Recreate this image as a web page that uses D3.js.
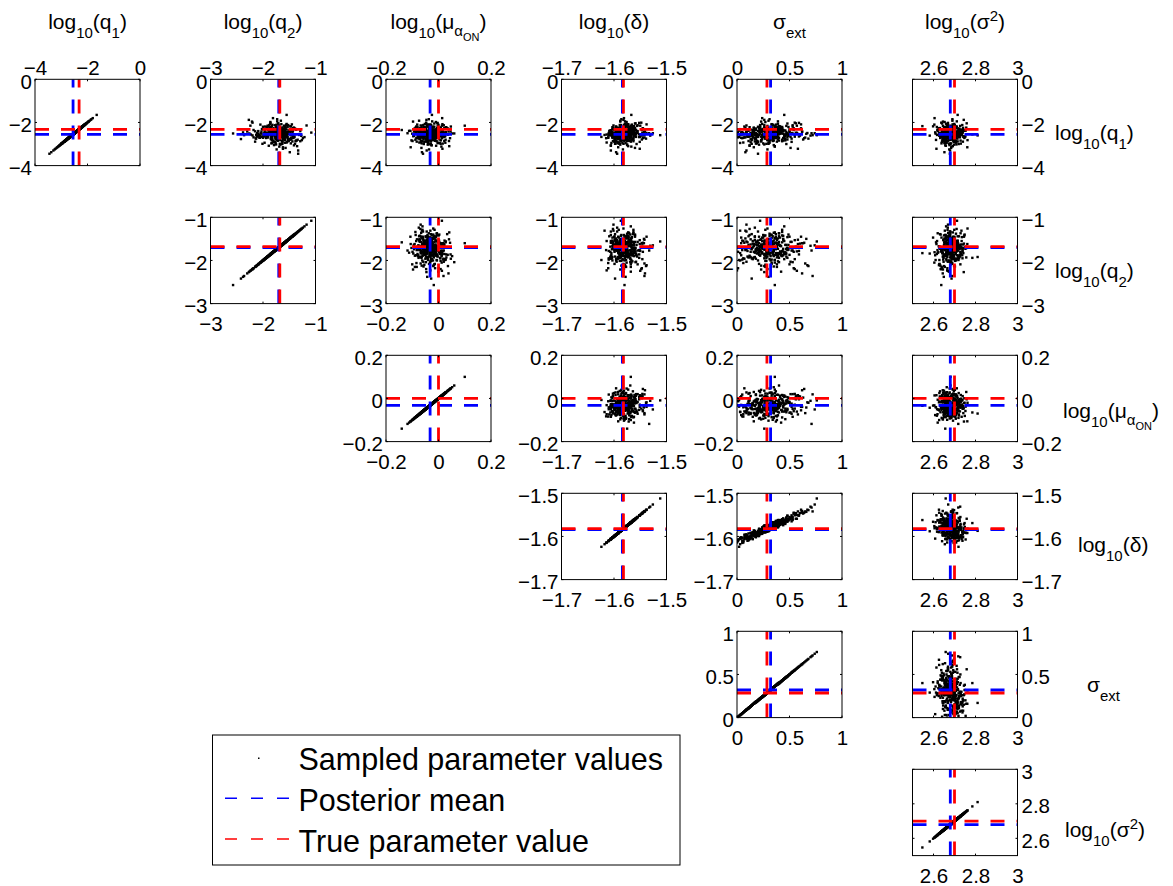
<!DOCTYPE html>
<html><head><meta charset="utf-8">
<script src="https://cdn.jsdelivr.net/npm/d3@7"></script>
<style>body{margin:0;background:#fff;}</style>
</head><body>
<svg id="chart" width="1173" height="886" style="background:#fff"></svg>
<script>
// ---------- data ----------
const domains = [[-4,0],[-3,-1],[-0.2,0.2],[-1.7,-1.5],[0,1],[2.5,3]];
const tickValues = [[-4,-2,0],[-3,-2,-1],[-0.2,0,0.2],[-1.7,-1.6,-1.5],[0,0.5,1],[2.6,2.8,3]];
const tickLabels = [["−4","−2","0"],["−3","−2","−1"],["−0.2","0","0.2"],["−1.7","−1.6","−1.5"],["0","0.5","1"],["2.6","2.8","3"]];
const posteriorMean = [-2.55,-1.70,-0.032,-1.584,0.32,2.68];
const trueValue = [-2.32,-1.68,0.0,-1.582,0.285,2.70];
const legendLabels = ["Sampled parameter values","Posterior mean","True parameter value"];

const sampQ1 = [
-2.41,-2.73,-2.55,-2.18,-2.62,-2.47,-2.90,-2.33,-2.51,-2.69,-2.24,-2.58,-2.44,-2.81,-2.36,-2.60,-2.12,-2.53,-2.75,-2.49,
-2.30,-2.66,-2.57,-2.95,-2.39,-2.21,-2.63,-2.48,-2.84,-2.52,-2.27,-2.71,-2.45,-2.06,-2.59,-2.38,-2.78,-2.54,-2.35,-2.65,
-2.50,-3.08,-2.43,-2.26,-2.68,-2.56,-2.15,-2.61,-2.42,-2.87,-2.34,-2.53,-2.70,-2.46,-1.95,-2.64,-2.29,-2.58,-2.77,-2.40,
-2.55,-2.20,-2.72,-2.48,-2.99,-2.37,-2.62,-2.51,-2.25,-2.80,-2.44,-2.57,-2.10,-2.67,-2.32,-2.52,-2.86,-2.45,-2.60,-2.23,
-2.74,-2.39,-2.54,-3.45,-2.47,-2.66,-2.31,-2.58,-2.13,-2.69,-2.49,-2.36,-2.83,-2.56,-2.28,-2.63,-2.42,-2.92,-2.50,-2.19,
-2.61,-2.44,-2.76,-2.35,-2.53,-2.02,-2.68,-2.47,-2.89,-2.40,-2.57,-2.26,-2.71,-2.51,-2.33,-3.18,-2.46,-2.64,-2.17,-2.55,
-2.38,-2.79,-2.50,-2.22,-2.65,-2.43,-2.59,-1.85,-2.73,-2.48,-2.30,-2.62,-2.54,-2.96,-2.41,-2.67,-2.14,-2.57,-2.45,-2.82,
-2.52,-2.29,-2.70,-2.46,-2.60,-2.37,-3.02,-2.55,-2.24,-2.64,-2.49,-2.77,-2.34,-2.58,-2.08,-2.66,-2.43,-2.85,-2.53,-2.39,
-2.63,-2.21,-2.56,-2.74,-2.47,-2.32,-2.69,-2.51,-2.88,-2.42,-1.65,-2.59,-2.36,-2.72,-2.48,-2.27,-2.61,-2.54,-3.25,-2.45,
-2.57,-2.40,-2.81,-2.16,-2.65,-2.50,-2.35,-2.75,-2.44,-2.58,-2.23,-2.68,-2.52,-2.93,-2.31,-2.62,-2.47,-2.11,-2.70,-2.55,
-2.46,-2.84,-2.28,-2.60,-2.42,-2.73,-2.53,-2.19,-2.67,-2.49,-2.98,-2.37,-2.56,-2.25,-2.64,-2.44,-2.79,-2.51,-2.33,-2.61,
-2.48,-2.26,-2.71,-2.55,-2.05,-2.63,-2.41,-2.86,-2.52,-2.34,-2.66,-2.45,-3.12,-2.58,-2.30,-2.76,-2.50,-2.20,-2.60,-2.43,
-2.12,-2.88,-2.35,-2.67,-1.92,-2.54,-3.05,-2.41,-2.79,-2.20,-2.61,-2.97,-2.28,-2.50,-1.88,-2.73,-2.45,-3.22,-2.58,-2.16,
-2.83,-2.32,-2.62,-2.07,-2.49,-2.94,-2.38,-2.70,-2.26,-3.10,-2.55,-2.01,-2.66,-2.43,-2.86,-2.18,-2.59,-2.37,-2.78,-2.47,
-2.29,-2.71,-1.98,-2.56,-2.90,-2.44,-2.15,-2.64,-3.30,-2.39,-2.52,-2.81,-2.09,-2.68,-2.34,-2.99,-2.46,-2.23,-2.75,-2.57,
-2.60,-2.11,-2.84,-2.42,-2.69,-2.25,-3.00,-2.53,-1.80,-2.77,-2.36,-2.63,-2.94,-2.19,-2.51,-2.72,-2.40,-3.15,-2.27,-2.65,
-2.44,-2.97,-2.31,-2.58,-2.04,-2.80,-2.48,-2.22,-2.74,-2.61,-3.06,-2.35,-2.55,-2.89,-2.14,-2.67,-2.42,-2.99,-2.53,-2.30,
-2.76,-2.40,-2.66,-3.38,-2.21,-2.59,-2.87,-2.33,-2.50,-1.96,-2.70,-2.45,-2.82,-2.27,-2.62,-3.03,-2.39,-2.56,-2.10,-2.73];

const sampQ2 = [
-1.62,-1.85,-1.71,-1.48,-1.93,-1.66,-1.77,-1.55,-2.04,-1.69,-1.41,-1.81,-1.74,-1.58,-1.96,-1.64,-1.88,-1.52,-1.72,-1.79,
-1.67,-2.12,-1.59,-1.83,-1.45,-1.75,-1.90,-1.63,-1.36,-1.78,-1.70,-2.00,-1.56,-1.86,-1.68,-1.50,-1.82,-1.61,-2.18,-1.73,
-1.57,-1.89,-1.65,-1.43,-1.76,-1.98,-1.60,-1.84,-1.70,-1.29,-1.80,-1.66,-2.07,-1.54,-1.73,-1.91,-1.62,-1.47,-1.85,-1.69,
-1.76,-1.53,-1.94,-1.68,-1.39,-1.81,-1.64,-2.26,-1.72,-1.58,-1.87,-1.45,-1.74,-1.99,-1.61,-1.79,-1.51,-1.70,-1.92,-1.63,
-1.84,-1.60,-1.73,-1.33,-1.88,-1.67,-2.02,-1.55,-1.77,-1.64,-1.95,-1.49,-1.71,-1.82,-1.58,-2.10,-1.66,-1.80,-1.44,-1.75,
-1.69,-1.97,-1.52,-1.78,-1.63,-1.86,-1.40,-1.74,-2.15,-1.60,-1.81,-1.68,-1.47,-1.90,-1.72,-1.57,-2.38,-1.65,-1.83,-1.54,
-1.79,-1.46,-1.70,-1.92,-1.61,-1.85,-1.56,-1.73,-1.24,-1.88,-1.67,-2.05,-1.59,-1.76,-1.43,-1.83,-1.69,-1.97,-1.62,-1.74,
-1.66,-1.89,-1.54,-1.80,-2.20,-1.64,-1.75,-1.48,-1.93,-1.70,-1.57,-1.84,-1.37,-1.78,-1.65,-2.01,-1.60,-1.72,-1.87,-1.51,
-1.73,-1.58,-1.96,-1.68,-1.81,-1.45,-1.76,-2.57,-1.63,-1.86,-1.55,-1.71,-1.90,-1.42,-1.79,-1.67,-2.08,-1.60,-1.74,-1.84,
-1.61,-1.77,-1.50,-1.91,-1.69,-1.83,-1.58,-2.13,-1.72,-1.46,-1.85,-1.66,-1.99,-1.55,-1.78,-1.64,-1.08,-1.82,-1.70,-1.94,
-1.75,-1.52,-1.87,-1.65,-2.03,-1.59,-1.80,-1.70,-1.41,-1.88,-1.63,-1.76,-2.23,-1.57,-1.84,-1.68,-1.49,-1.92,-1.73,-1.61,
-1.82,-1.67,-1.44,-1.95,-1.71,-1.56,-1.86,-1.64,-2.09,-1.74,-1.53,-1.79,-1.69,-1.31,-1.90,-1.62,-1.77,-2.00,-1.58,-1.72,
-1.52,-1.44,-1.88,-2.03,-1.66,-1.31,-1.79,-2.15,-1.60,-1.57,-1.95,-1.84,-1.39,-1.71,-2.27,-1.76,-1.48,-1.62,-2.08,-1.91,
-1.83,-1.63,-1.27,-1.55,-2.11,-1.97,-1.68,-1.74,-1.42,-1.35,-1.89,-2.20,-1.58,-1.65,-1.80,-1.47,-2.36,-1.72,-1.51,-1.93,
-1.69,-2.06,-1.86,-1.40,-1.54,-1.77,-2.24,-1.61,-1.33,-1.82,-1.98,-1.67,-1.45,-1.21,-1.75,-2.01,-1.88,-1.59,-1.70,-2.13,
-1.92,-1.56,-1.37,-1.74,-2.18,-1.85,-1.64,-1.50,-1.81,-2.42,-1.69,-1.43,-1.58,-1.96,-2.04,-1.73,-1.29,-1.62,-1.87,-1.78,
-1.60,-1.47,-2.00,-1.90,-1.71,-1.34,-1.53,-1.86,-2.14,-1.66,-1.41,-1.76,-1.94,-1.63,-1.17,-1.83,-2.30,-1.68,-1.55,-1.79,
-1.76,-2.09,-1.62,-1.49,-1.85,-1.97,-1.38,-1.72,-1.65,-2.21,-1.91,-1.54,-1.26,-1.80,-1.99,-1.67,-1.44,-1.84,-2.05,-1.59];

const sampMu = [
-0.046,0.014,-0.070,-0.031,-0.018,-0.054,-0.039,-0.002,0.060,-0.060,-0.087,-0.025,-0.010,-0.041,-0.050,0.017,-0.028,-0.074,-0.037,-0.015,
-0.023,-0.064,-0.049,0.005,-0.107,-0.020,0.012,-0.044,-0.066,-0.030,-0.055,-0.006,0.028,-0.047,-0.079,-0.022,-0.012,-0.034,0.001,-0.058,
-0.039,-0.009,-0.027,-0.072,-0.053,0.018,0.100,-0.043,-0.019,-0.061,-0.032,-0.003,-0.068,0.023,-0.024,-0.048,-0.091,-0.014,-0.057,-0.040,
-0.017,-0.045,-0.076,0.010,-0.029,-0.052,-0.094,-0.001,-0.036,0.027,-0.021,-0.060,-0.081,-0.007,-0.026,-0.042,0.040,-0.055,-0.070,-0.033,
-0.044,0.003,-0.023,-0.059,-0.086,-0.011,-0.031,-0.050,0.020,-0.063,-0.041,-0.018,-0.103,0.007,-0.028,-0.054,0.013,-0.067,-0.014,-0.038,
-0.051,-0.025,-0.071,0.016,-0.035,-0.004,-0.020,-0.058,-0.083,-0.040,-0.047,0.009,-0.030,0.052,-0.016,-0.065,-0.043,-0.077,-0.034,-0.008,
-0.021,-0.048,0.004,-0.030,-0.062,-0.015,-0.009,-0.037,-0.075,-0.026,-0.052,0.012,-0.033,-0.003,-0.019,-0.068,-0.044,0.021,-0.056,-0.028,
-0.035,-0.090,-0.041,-0.011,0.008,-0.024,-0.031,-0.059,0.030,-0.046,-0.071,-0.017,-0.006,-0.050,0.015,-0.027,-0.039,-0.013,-0.034,-0.082,
-0.007,-0.055,0.019,-0.023,-0.043,-0.066,-0.038,-0.018,-0.029,0.046,-0.025,-0.049,-0.078,0.001,-0.061,-0.032,-0.014,0.010,-0.036,-0.053,
-0.045,-0.004,-0.028,-0.064,0.025,-0.051,-0.140,-0.020,-0.034,-0.010,0.006,-0.057,-0.040,-0.073,-0.047,-0.016,0.013,-0.030,-0.022,-0.065,
-0.054,-0.012,0.035,-0.038,-0.058,-0.026,0.002,-0.085,-0.042,-0.019,0.016,-0.069,-0.031,-0.050,-0.096,-0.008,-0.027,-0.045,-0.036,0.009,
-0.024,-0.067,-0.043,0.007,-0.016,-0.056,-0.033,0.022,-0.100,-0.013,-0.029,-0.048,0.011,-0.063,-0.005,-0.035,-0.118,-0.021,0.003,-0.052,
-0.058,-0.049,0.012,0.020,-0.074,-0.031,-0.027,-0.090,0.004,-0.016,-0.041,-0.064,0.033,-0.008,-0.046,-0.083,-0.022,0.015,-0.036,-0.003,
0.009,-0.011,-0.069,-0.052,-0.018,0.026,-0.038,-0.079,-0.005,0.041,-0.060,-0.047,-0.025,-0.014,-0.099,-0.033,0.019,-0.001,-0.072,-0.043,
-0.030,-0.084,-0.010,0.003,-0.054,-0.066,0.013,-0.021,-0.045,-0.112,0.027,-0.017,-0.039,-0.061,-0.006,0.008,-0.077,-0.050,-0.024,0.036,
-0.065,0.000,-0.037,-0.093,-0.013,0.022,-0.056,-0.042,0.014,-0.028,-0.081,-0.070,-0.002,0.047,-0.048,-0.035,-0.015,-0.106,-0.053,0.010,
0.017,-0.040,-0.062,-0.019,-0.004,-0.088,-0.034,0.029,-0.057,-0.011,-0.026,-0.073,0.006,-0.045,-0.068,-0.009,0.038,-0.031,-0.085,-0.023,
-0.047,-0.016,0.021,-0.063,-0.080,-0.029,-0.007,0.011,-0.051,-0.097,-0.036,0.002,-0.020,-0.059,0.025,-0.041,-0.074,-0.012,-0.032,0.044];

const sampDelta = [
-1.578,-1.570,-1.591,-1.576,-1.593,-1.581,-1.551,-1.594,-1.569,-1.602,-1.581,-1.584,-1.562,-1.579,-1.606,-1.567,-1.589,-1.542,-1.578,-1.592,
-1.570,-1.586,-1.587,-1.605,-1.572,-1.563,-1.574,-1.600,-1.572,-1.595,-1.545,-1.580,-1.597,-1.578,-1.582,-1.568,-1.592,-1.585,-1.547,-1.591,
-1.573,-1.606,-1.567,-1.587,-1.552,-1.610,-1.568,-1.588,-1.589,-1.563,-1.599,-1.573,-1.542,-1.581,-1.579,-1.598,-1.580,-1.580,-1.564,-1.579,
-1.595,-1.569,-1.589,-1.546,-1.598,-1.580,-1.577,-1.568,-1.601,-1.584,-1.557,-1.592,-1.566,-1.624,-1.577,-1.568,-1.586,-1.582,-1.587,-1.569,
-1.575,-1.590,-1.560,-1.594,-1.567,-1.603,-1.565,-1.589,-1.555,-1.584,-1.610,-1.567,-1.581,-1.562,-1.602,-1.579,-1.573,-1.592,-1.578,-1.588,
-1.575,-1.595,-1.588,-1.561,-1.586,-1.552,-1.569,-1.604,-1.568,-1.596,-1.561,-1.584,-1.603,-1.583,-1.583,-1.560,-1.578,-1.597,-1.562,-1.584,
-1.584,-1.566,-1.576,-1.603,-1.562,-1.585,-1.512,-1.586,-1.594,-1.564,-1.590,-1.567,-1.606,-1.578,-1.574,-1.587,-1.581,-1.546,-1.584,-1.597,
-1.571,-1.587,-1.582,-1.607,-1.581,-1.566,-1.575,-1.573,-1.592,-1.584,-1.555,-1.589,-1.563,-1.610,-1.573,-1.586,-1.543,-1.597,-1.564,-1.580,
-1.582,-1.572,-1.592,-1.579,-1.574,-1.560,-1.599,-1.580,-1.588,-1.576,-1.567,-1.592,-1.571,-1.581,-1.559,-1.586,-1.582,-1.602,-1.583,-1.566,
-1.578,-1.589,-1.587,-1.556,-1.600,-1.575,-1.575,-1.539,-1.575,-1.600,-1.567,-1.589,-1.567,-1.614,-1.578,-1.562,-1.587,-1.581,-1.590,-1.569,
-1.579,-1.571,-1.589,-1.580,-1.595,-1.574,-1.575,-1.562,-1.586,-1.564,-1.597,-1.569,-1.614,-1.579,-1.571,-1.584,-1.575,-1.592,-1.581,-1.546,
-1.581,-1.593,-1.576,-1.579,-1.560,-1.596,-1.567,-1.602,-1.568,-1.587,-1.551,-1.591,-1.567,-1.618,-1.562,-1.586,-1.533,-1.596,-1.570,-1.587,
-1.587,-1.599,-1.558,-1.558,-1.588,-1.601,-1.575,-1.577,-1.547,-1.564,-1.604,-1.591,-1.564,-1.564,-1.582,-1.615,-1.573,-1.551,-1.599,-1.578,
-1.568,-1.567,-1.602,-1.579,-1.538,-1.584,-1.607,-1.596,-1.560,-1.573,-1.589,-1.548,-1.603,-1.586,-1.580,-1.566,-1.542,-1.583,-1.598,-1.573,
-1.578,-1.611,-1.576,-1.560,-1.599,-1.572,-1.550,-1.591,-1.606,-1.562,-1.583,-1.587,-1.538,-1.568,-1.591,-1.589,-1.605,-1.574,-1.565,-1.581,
-1.607,-1.573,-1.571,-1.582,-1.611,-1.586,-1.557,-1.543,-1.581,-1.598,-1.578,-1.574,-1.593,-1.596,-1.559,-1.563,-1.591,-1.592,-1.572,-1.550,
-1.568,-1.591,-1.603,-1.579,-1.559,-1.563,-1.594,-1.583,-1.578,-1.531,-1.606,-1.581,-1.552,-1.595,-1.601,-1.579,-1.541,-1.582,-1.606,-1.565,
-1.599,-1.555,-1.578,-1.596,-1.583,-1.569,-1.575,-1.602,-1.526,-1.588,-1.577,-1.603,-1.582,-1.545,-1.577,-1.588,-1.609,-1.558,-1.576,-1.545];

const sampSigExt = [
0.28,0.45,0.19,0.36,0.11,0.31,0.52,0.24,0.40,0.07,0.33,0.21,0.47,0.29,0.15,0.38,0.26,0.58,0.34,0.18,
0.42,0.23,0.30,0.03,0.37,0.49,0.27,0.13,0.35,0.22,0.61,0.32,0.09,0.39,0.25,0.44,0.17,0.30,0.54,0.20,
0.33,0.12,0.41,0.26,0.48,0.05,0.36,0.29,0.22,0.43,0.16,0.31,0.65,0.27,0.39,0.10,0.35,0.24,0.46,0.30,
0.19,0.38,0.28,0.56,0.14,0.34,0.25,0.42,0.08,0.32,0.50,0.21,0.37,0.02,0.29,0.44,0.23,0.33,0.17,0.40,
0.31,0.26,0.47,0.20,0.35,0.11,0.39,0.28,0.53,0.24,0.06,0.36,0.30,0.45,0.18,0.27,0.41,0.13,0.34,0.22,
0.37,0.15,0.29,0.43,0.25,0.59,0.32,0.09,0.38,0.21,0.46,0.28,0.04,0.35,0.24,0.51,0.30,0.19,0.40,0.26,
0.23,0.48,0.33,0.12,0.39,0.27,0.76,0.31,0.17,0.42,0.25,0.36,0.07,0.30,0.44,0.20,0.34,0.55,0.28,0.14,
0.41,0.22,0.35,0.01,0.29,0.46,0.26,0.37,0.16,0.32,0.52,0.24,0.40,0.10,0.33,0.27,0.62,0.19,0.38,0.30,
0.25,0.43,0.18,0.34,0.28,0.50,0.08,0.36,0.23,0.31,0.45,0.14,0.39,0.27,0.57,0.21,0.33,0.04,0.29,0.42,
0.35,0.20,0.30,0.47,0.12,0.38,0.26,0.68,0.32,0.17,0.41,0.24,0.36,0.06,0.28,0.49,0.22,0.34,0.15,0.40,
0.27,0.44,0.21,0.33,0.09,0.37,0.30,0.53,0.25,0.42,0.18,0.35,0.00,0.29,0.46,0.23,0.39,0.13,0.31,0.60,
0.32,0.16,0.40,0.26,0.48,0.19,0.34,0.11,0.38,0.29,0.55,0.22,0.36,0.03,0.43,0.27,0.71,0.20,0.33,0.24,
0.22,0.17,0.44,0.51,0.30,0.08,0.35,0.27,0.63,0.40,0.14,0.19,0.37,0.48,0.26,0.05,0.33,0.58,0.21,0.29,
0.46,0.39,0.12,0.24,0.67,0.31,0.02,0.18,0.43,0.36,0.28,0.55,0.10,0.16,0.34,0.41,0.72,0.25,0.13,0.38,
0.30,0.06,0.27,0.49,0.20,0.35,0.57,0.15,0.09,0.42,0.33,0.23,0.61,0.45,0.18,0.28,0.04,0.37,0.52,0.26,
0.11,0.34,0.40,0.21,0.01,0.29,0.47,0.66,0.24,0.14,0.38,0.31,0.19,0.07,0.53,0.44,0.27,0.16,0.36,0.59,
0.39,0.25,0.03,0.32,0.56,0.43,0.17,0.22,0.35,0.70,0.12,0.28,0.48,0.20,0.09,0.37,0.62,0.30,0.15,0.41,
0.18,0.50,0.34,0.08,0.26,0.45,0.31,0.13,0.74,0.23,0.39,0.05,0.29,0.54,0.36,0.21,0.11,0.47,0.33,0.64];

const sampSig2 = [
2.672,2.705,2.651,2.689,2.718,2.664,2.640,2.697,2.681,2.726,2.658,2.693,2.675,2.612,2.701,2.668,2.737,2.684,2.647,2.710,
2.679,2.633,2.699,2.662,2.745,2.686,2.655,2.714,2.670,2.692,2.627,2.707,2.677,2.660,2.721,2.683,2.644,2.696,2.666,2.752,
2.688,2.659,2.716,2.674,2.638,2.703,2.681,2.582,2.695,2.667,2.729,2.653,2.690,2.676,2.711,2.645,2.685,2.700,2.661,2.733,
2.669,2.694,2.648,2.712,2.680,2.623,2.706,2.673,2.741,2.656,2.687,2.699,2.664,2.719,2.677,2.636,2.702,2.683,2.810,2.652,
2.691,2.665,2.724,2.678,2.650,2.708,2.684,2.617,2.697,2.671,2.738,2.660,2.693,2.643,2.715,2.680,2.656,2.704,2.674,2.689,
2.657,2.713,2.682,2.641,2.700,2.669,2.748,2.686,2.654,2.717,2.676,2.630,2.695,2.663,2.722,2.684,2.649,2.706,2.547,2.692,
2.701,2.673,2.639,2.696,2.681,2.730,2.658,2.690,2.668,2.711,2.625,2.685,2.703,2.652,2.678,2.742,2.666,2.694,2.687,2.646,
2.676,2.719,2.663,2.698,2.634,2.688,2.709,2.671,2.756,2.655,2.692,2.680,2.620,2.714,2.667,2.702,2.683,2.643,2.725,2.674,
2.694,2.651,2.707,2.682,2.728,2.662,2.690,2.637,2.699,2.677,2.715,2.659,2.686,2.747,2.670,2.696,2.629,2.705,2.675,2.688,
2.666,2.703,2.679,2.645,2.720,2.684,2.656,2.698,2.673,2.735,2.661,2.691,2.610,2.708,2.682,2.650,2.712,2.669,2.700,2.785,
2.683,2.647,2.697,2.716,2.668,2.690,2.639,2.704,2.676,2.658,2.730,2.687,2.665,2.700,2.644,2.721,2.679,2.693,2.653,2.710,
2.672,2.706,2.660,2.689,2.641,2.713,2.681,2.695,2.627,2.702,2.669,2.739,2.685,2.654,2.697,2.675,2.718,2.662,2.692,2.678,
2.701,2.715,2.662,2.648,2.690,2.733,2.676,2.639,2.655,2.708,2.722,2.684,2.631,2.667,2.744,2.696,2.659,2.614,2.687,2.727,
2.643,2.670,2.710,2.698,2.626,2.661,2.753,2.683,2.650,2.692,2.719,2.637,2.674,2.706,2.665,2.598,2.688,2.731,2.657,2.679,
2.724,2.686,2.653,2.634,2.697,2.712,2.668,2.745,2.679,2.620,2.646,2.703,2.691,2.660,2.738,2.675,2.608,2.682,2.714,2.650,
2.666,2.700,2.729,2.677,2.641,2.658,2.720,2.693,2.605,2.686,2.749,2.671,2.654,2.711,2.680,2.632,2.699,2.761,2.663,2.689,
2.692,2.638,2.673,2.717,2.758,2.681,2.647,2.664,2.702,2.727,2.656,2.619,2.688,2.740,2.669,2.706,2.644,2.678,2.734,2.697,
2.657,2.728,2.694,2.652,2.616,2.685,2.707,2.739,2.670,2.645,2.683,2.715,2.762,2.661,2.628,2.698,2.721,2.676,2.604,2.691];

// ---------- layout ----------
const FONT = '"Liberation Sans", Arial, Helvetica, sans-serif';
const W = 105, H = 86.3;
const PT = 2.4;
const colX = d3.scaleLinear().domain([0,5]).range([35, 912.5]);
const rowY = d3.scaleLinear().domain([0,5]).range([79.3, 769.3]);
const rowLabelPos = [[1055,139.5],[1055,277.5],[1063,417.5],[1078,551.5],[1087,691.5],[1065,836.5]];
const labelSegs = [
  [["log",0],["10",1],["(q",0],["1",1],[")",0]],
  [["log",0],["10",1],["(q",0],["2",1],[")",0]],
  [["log",0],["10",1],["(μ",0],["α",2],["ON",3],[")",0]],
  [["log",0],["10",1],["(δ)",0]],
  [["σ",0],["ext",1]],
  [["log",0],["10",1],["(σ",0],["2",-1],[")",0]]
];
const segStyle = {"0":{fs:21,off:0},"1":{fs:15,off:9},"2":{fs:15,off:7},"3":{fs:11,off:12},"-1":{fs:15,off:-8}};

const svg = d3.select("#chart");
const defs = svg.append("defs");
const samples = [sampQ1, sampQ2, sampMu, sampDelta, sampSigExt, sampSig2];
const n = d3.min(samples, s => s.length);

function richText(parent, x, y, segs, anchor) {
  const t = parent.append("text").attr("x", x).attr("y", y)
    .attr("text-anchor", anchor).attr("font-family", FONT).attr("font-size", 21).attr("fill", "#000");
  let prev = 0;
  segs.forEach(([s, lvl]) => {
    const st = segStyle[String(lvl)];
    t.append("tspan").attr("dy", st.off - prev).attr("font-size", st.fs).text(s);
    prev = st.off;
  });
}

const refLines = [{vals: posteriorMean, color: "#0000ff"}, {vals: trueValue, color: "#ff0000"}];

for (let r = 0; r < 6; r++) {
  for (let c = r; c < 6; c++) {
    const left = colX(c), top = rowY(r);
    const x = d3.scaleLinear().domain(domains[c]).range([left, left + W]);
    const y = d3.scaleLinear().domain(domains[r]).range([top + H, top]);
    const g = svg.append("g");
    const clipId = "clip" + r + c;
    defs.append("clipPath").attr("id", clipId).append("rect")
      .attr("x", left).attr("y", top).attr("width", W).attr("height", H);
    const inner = g.append("g").attr("clip-path", `url(#${clipId})`);
    inner.append("g").selectAll("rect").data(d3.range(n)).join("rect")
      .attr("x", i => x(samples[c][i]) - PT / 2).attr("y", i => y(samples[r][i]) - PT / 2)
      .attr("width", PT).attr("height", PT).attr("fill", "#000");
    refLines.forEach(rl => {
      inner.append("line")
        .attr("x1", x(rl.vals[c])).attr("x2", x(rl.vals[c]))
        .attr("y1", y(domains[r][0])).attr("y2", y(domains[r][1]))
        .attr("stroke", rl.color).attr("stroke-width", 2.8).attr("stroke-dasharray", "14,12");
      inner.append("line")
        .attr("x1", x(domains[c][0])).attr("x2", x(domains[c][1]))
        .attr("y1", y(rl.vals[r])).attr("y2", y(rl.vals[r]))
        .attr("stroke", rl.color).attr("stroke-width", 2.8).attr("stroke-dasharray", "14,12");
    });
    tickValues[c].forEach(v => {
      g.append("line").attr("x1", x(v)).attr("x2", x(v)).attr("y1", top).attr("y2", top + 2).attr("stroke", "#000");
      g.append("line").attr("x1", x(v)).attr("x2", x(v)).attr("y1", top + H).attr("y2", top + H - 2).attr("stroke", "#000");
    });
    tickValues[r].forEach(v => {
      g.append("line").attr("y1", y(v)).attr("y2", y(v)).attr("x1", left).attr("x2", left + 2).attr("stroke", "#000");
      g.append("line").attr("y1", y(v)).attr("y2", y(v)).attr("x1", left + W).attr("x2", left + W - 2).attr("stroke", "#000");
    });
    g.append("rect").attr("x", left).attr("y", top).attr("width", W).attr("height", H)
      .attr("fill", "none").attr("stroke", "#000").attr("stroke-width", 1);
    const xa = (r === 0 ? d3.axisTop(x) : d3.axisBottom(x))
      .tickValues(tickValues[c]).tickFormat((d, i) => tickLabels[c][i])
      .tickSize(0).tickPadding(r === 0 ? 4 : 12.6);
    g.append("g").attr("transform", `translate(0,${r === 0 ? top : top + H})`).call(xa)
      .call(a => { a.select(".domain").remove(); a.selectAll(".tick line").remove(); })
      .attr("font-size", 20.5).attr("font-family", FONT);
    const ya = (c === 5 ? d3.axisRight(y) : d3.axisLeft(y))
      .tickValues(tickValues[r]).tickFormat((d, i) => tickLabels[r][i])
      .tickSize(0).tickPadding(c === 5 ? 4 : 3);
    g.append("g").attr("transform", `translate(${c === 5 ? left + W : left},0)`).call(ya)
      .call(a => { a.select(".domain").remove(); a.selectAll(".tick line").remove(); a.selectAll("text").attr("dy", "0.43em"); })
      .attr("font-size", 20.5).attr("font-family", FONT);
  }
}

for (let c = 0; c < 6; c++) richText(svg, colX(c) + W / 2, 29.3, labelSegs[c], "middle");
for (let r = 0; r < 6; r++) richText(svg, rowLabelPos[r][0], rowLabelPos[r][1], labelSegs[r], "start");

// legend
const lg = svg.append("g");
lg.append("rect").attr("x", 212.5).attr("y", 735).attr("width", 467.5).attr("height", 130)
  .attr("fill", "#fff").attr("stroke", "#000").attr("stroke-width", 1);
const legendY = d3.scalePoint().domain(legendLabels).range([770, 851.5]);
lg.append("rect").attr("x", 258).attr("y", 757.5).attr("width", 1.5).attr("height", 1.5).attr("fill", "#000");
[[legendLabels[1], "#0000ff"], [legendLabels[2], "#ff0000"]].forEach(([lab, col]) => {
  lg.append("line").attr("x1", 225).attr("x2", 291).attr("y1", legendY(lab) - 12.5).attr("y2", legendY(lab) - 12.5)
    .attr("stroke", col).attr("stroke-width", 1.5).attr("stroke-dasharray", "12,14");
});
lg.selectAll("text").data(legendLabels).join("text")
  .attr("x", 298.5).attr("y", d => legendY(d))
  .attr("font-family", FONT).attr("font-size", 30.5).attr("fill", "#000").text(d => d);
</script>
</body></html>
